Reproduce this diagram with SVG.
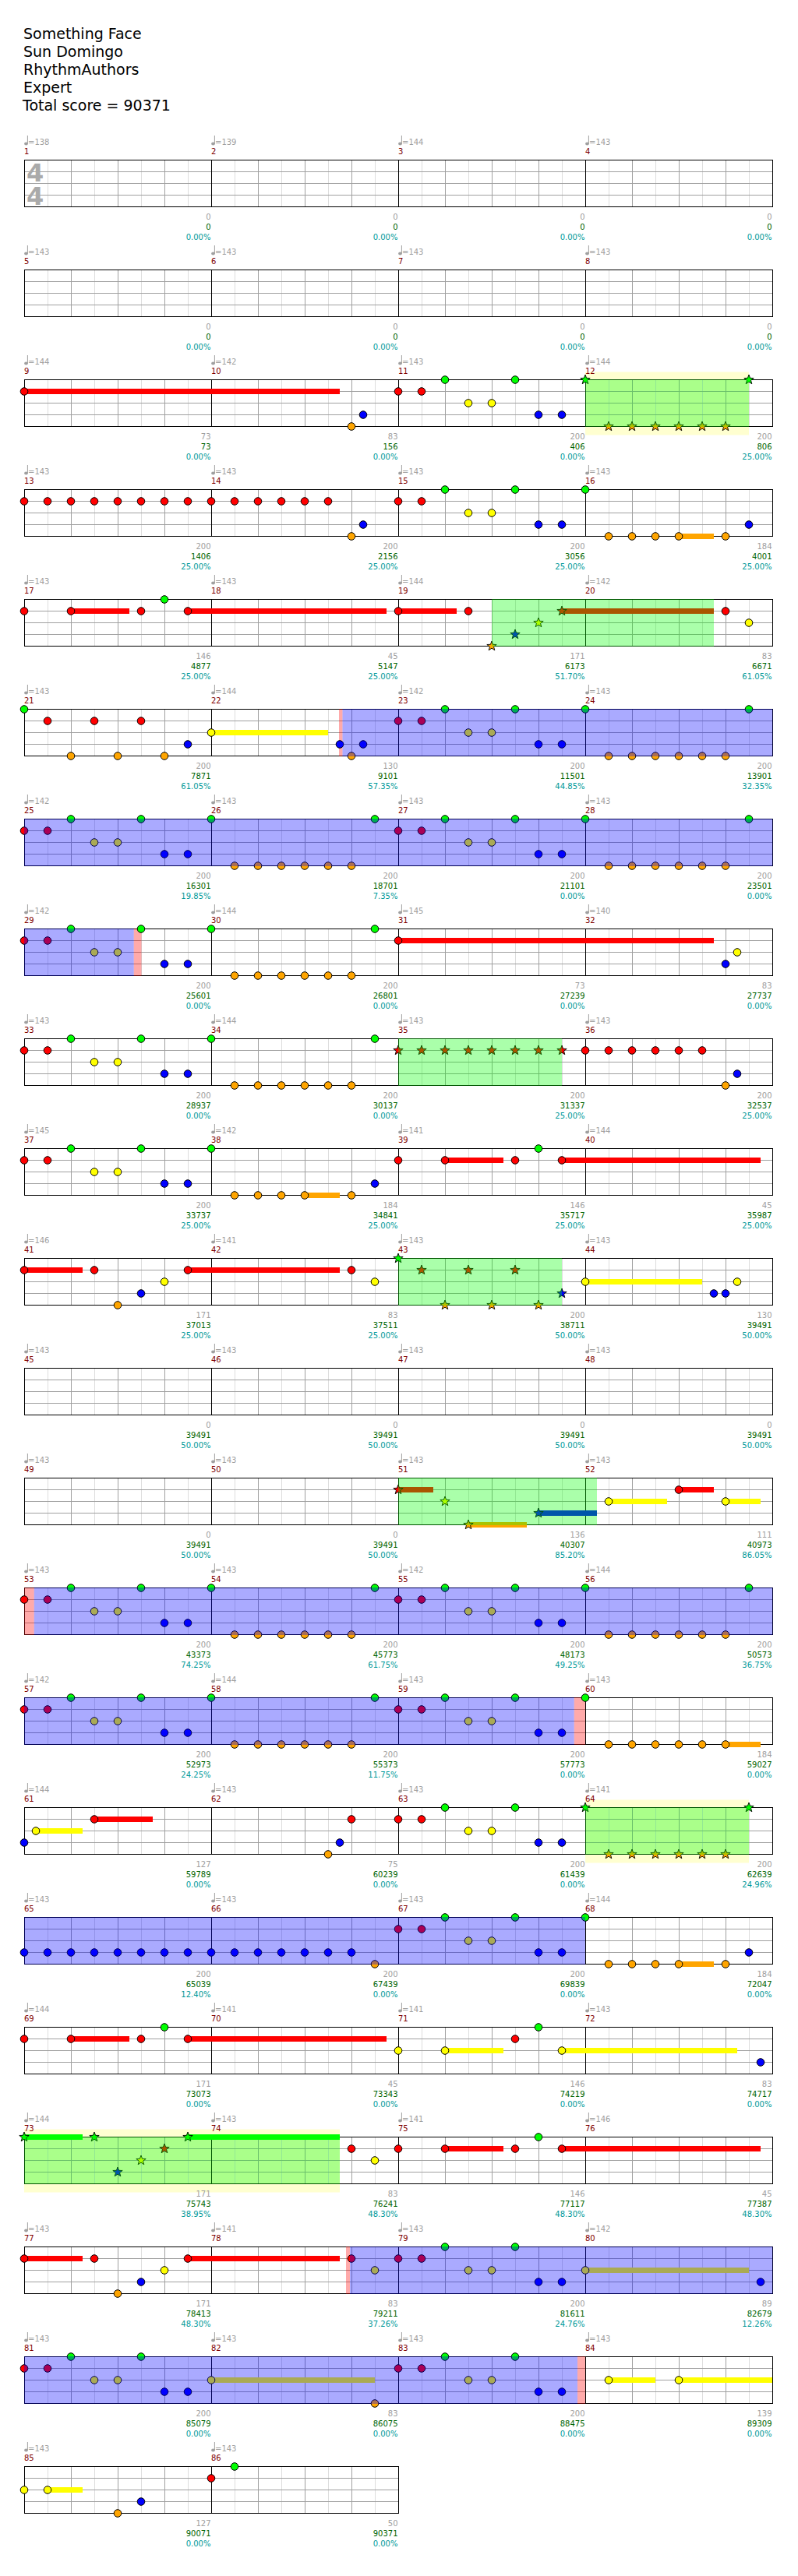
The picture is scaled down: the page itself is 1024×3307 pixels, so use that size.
<svg xmlns="http://www.w3.org/2000/svg" xmlns:xlink="http://www.w3.org/1999/xlink" width="1024" height="3307" viewBox="0 0 1024 3307">
<style>
.tx{font-family:"DejaVu Sans",sans-serif;font-size:10px}
.tp{fill:#a0a0a0}
.mn{fill:#800000}
.sa{fill:#a0a0a0;text-anchor:end}
.sb{fill:#006400;text-anchor:end}
.sc{fill:#009999;text-anchor:end}
.hd{font-family:"DejaVu Sans",sans-serif;font-size:19px;fill:#000}
.bl{fill:#0000ff;fill-opacity:0.333}
.gr{fill:#00ff00;fill-opacity:0.333}
.pk{fill:#ff0000;fill-opacity:0.333}
.yb{fill:#ffffd0}
.sR{fill:#ff0000}.sY{fill:#ffff00}.sB{fill:#0000ff}.sO{fill:#ffa500}.sG{fill:#00ff00}
</style>
<defs>
<g id="mg">
<path d="M30.5,0V60M90.5,0V60M150.5,0V60M210.5,0V60" stroke="#dddddd" fill="none"/>
<path d="M60.5,0V60M120.5,0V60M180.5,0V60M0,15H240M0,30H240M0,45H240" stroke="#a0a0a0" fill="none"/>
</g>
<g id="row">
<use href="#mg" x="31"/><use href="#mg" x="271"/><use href="#mg" x="511"/><use href="#mg" x="751"/>
<path d="M271.5,0V60M511.5,0V60M751.5,0V60" stroke="#000" fill="none"/>
<rect x="31.5" y="0" width="960" height="60" fill="none" stroke="#000"/>
</g>
<g id="row2">
<use href="#mg" x="31"/><use href="#mg" x="271"/>
<path d="M271.5,0V60" stroke="#000" fill="none"/>
<rect x="31.5" y="0" width="480" height="60" fill="none" stroke="#000"/>
</g>
<g id="q" fill="#a0a0a0"><ellipse cx="2.5" cy="-21" rx="2.4" ry="2"/><rect x="3.9" y="-31.5" width="1" height="10.5"/></g>
<circle id="g" cy="0" r="4.8" fill="#00ff00" stroke="#000"/>
<circle id="r" cy="15" r="4.8" fill="#ff0000" stroke="#000"/>
<circle id="y" cy="30" r="4.8" fill="#ffff00" stroke="#000"/>
<circle id="b" cy="45" r="4.8" fill="#0000ff" stroke="#000"/>
<circle id="o" cy="60" r="4.8" fill="#ffa500" stroke="#000"/>
<path id="st" d="M0,-6.5L1.59,-2.18L6.18,-2.01L2.57,0.83L3.82,5.26L0,2.7L-3.82,5.26L-2.57,0.83L-6.18,-2.01L-1.59,-2.18Z" stroke="#000" stroke-width="0.9"/>
<use id="sg" href="#st" y="0" fill="#00ff00"/>
<use id="sr" href="#st" y="15" fill="#ff0000"/>
<use id="sy" href="#st" y="30" fill="#ffff00"/>
<use id="sb" href="#st" y="45" fill="#0000ff"/>
<use id="so" href="#st" y="60" fill="#ffa500"/>
<g id="pA"><use href="#r" x="0"/><use href="#r" x="30"/><use href="#g" x="60"/><use href="#y" x="90"/><use href="#y" x="120"/><use href="#g" x="150"/><use href="#b" x="180"/><use href="#b" x="210"/></g>
<g id="pB"><use href="#g" x="0"/><use href="#o" x="30"/><use href="#o" x="60"/><use href="#o" x="90"/><use href="#o" x="120"/><use href="#o" x="150"/><use href="#o" x="180"/><use href="#g" x="210"/></g>
<g id="pC"><use href="#g" x="0"/><use href="#o" x="30"/><use href="#o" x="60"/><use href="#o" x="90"/><use href="#o" x="120"/><use href="#o" x="180"/><use href="#b" x="210"/></g>
</defs>
<rect width="1024" height="3307" fill="#fff"/>
<g id="header" class="hd">
<text x="30" y="49.5">Something Face</text>
<text x="30" y="72.5">Sun Domingo</text>
<text x="30" y="95.5">RhythmAuthors</text>
<text x="30" y="118.5">Expert</text>
<text x="29" y="141.5">Total score = 90371</text>
</g>

<g id="row1" transform="translate(0,205.5)">
<use href="#row"/>
<text x="34" y="27" font-family="DejaVu Sans,sans-serif" font-weight="bold" font-size="32" fill="#aaaaaa">4</text>
<text x="34" y="57" font-family="DejaVu Sans,sans-serif" font-weight="bold" font-size="32" fill="#aaaaaa">4</text>
<g class="tx tp"><use href="#q" x="31"/><text x="36" y="-20">=138</text><use href="#q" x="271"/><text x="276" y="-20">=139</text><use href="#q" x="511"/><text x="516" y="-20">=144</text><use href="#q" x="751"/><text x="756" y="-20">=143</text></g>
<g class="tx mn"><text x="31" y="-8">1</text><text x="271" y="-8">2</text><text x="511" y="-8">3</text><text x="751" y="-8">4</text></g>
<g class="tx"><text class="sa" x="270.5" y="76">0</text><text class="sb" x="270.5" y="89">0</text><text class="sc" x="270.5" y="102">0.00%</text><text class="sa" x="510.5" y="76">0</text><text class="sb" x="510.5" y="89">0</text><text class="sc" x="510.5" y="102">0.00%</text><text class="sa" x="750.5" y="76">0</text><text class="sb" x="750.5" y="89">0</text><text class="sc" x="750.5" y="102">0.00%</text><text class="sa" x="990.5" y="76">0</text><text class="sb" x="990.5" y="89">0</text><text class="sc" x="990.5" y="102">0.00%</text></g>
</g>

<g id="row2m" transform="translate(0,346.5)">
<use href="#row"/>
<g class="tx tp"><use href="#q" x="31"/><text x="36" y="-20">=143</text><use href="#q" x="271"/><text x="276" y="-20">=143</text><use href="#q" x="511"/><text x="516" y="-20">=143</text><use href="#q" x="751"/><text x="756" y="-20">=143</text></g>
<g class="tx mn"><text x="31" y="-8">5</text><text x="271" y="-8">6</text><text x="511" y="-8">7</text><text x="751" y="-8">8</text></g>
<g class="tx"><text class="sa" x="270.5" y="76">0</text><text class="sb" x="270.5" y="89">0</text><text class="sc" x="270.5" y="102">0.00%</text><text class="sa" x="510.5" y="76">0</text><text class="sb" x="510.5" y="89">0</text><text class="sc" x="510.5" y="102">0.00%</text><text class="sa" x="750.5" y="76">0</text><text class="sb" x="750.5" y="89">0</text><text class="sc" x="750.5" y="102">0.00%</text><text class="sa" x="990.5" y="76">0</text><text class="sb" x="990.5" y="89">0</text><text class="sc" x="990.5" y="102">0.00%</text></g>
</g>

<g id="row3" transform="translate(0,487.5)">
<rect class="yb" x="751" y="-10" width="210" height="81"/>
<use href="#row"/>
<rect class="sR" x="31" y="11.5" width="405" height="7"/>
<use href="#r" x="31"/><use href="#o" x="451"/><use href="#b" x="466"/><use href="#pA" x="511"/>
<use href="#sg" x="751"/><use href="#so" x="781"/><use href="#so" x="811"/><use href="#so" x="841"/><use href="#so" x="871"/><use href="#so" x="901"/><use href="#so" x="931"/><use href="#sg" x="961"/>
<rect class="gr" x="751" y="-0.5" width="210" height="61"/>
<g class="tx tp"><use href="#q" x="31"/><text x="36" y="-20">=144</text><use href="#q" x="271"/><text x="276" y="-20">=142</text><use href="#q" x="511"/><text x="516" y="-20">=143</text><use href="#q" x="751"/><text x="756" y="-20">=144</text></g>
<g class="tx mn"><text x="31" y="-8">9</text><text x="271" y="-8">10</text><text x="511" y="-8">11</text><text x="751" y="-8">12</text></g>
<g class="tx"><text class="sa" x="270.5" y="76">73</text><text class="sb" x="270.5" y="89">73</text><text class="sc" x="270.5" y="102">0.00%</text><text class="sa" x="510.5" y="76">83</text><text class="sb" x="510.5" y="89">156</text><text class="sc" x="510.5" y="102">0.00%</text><text class="sa" x="750.5" y="76">200</text><text class="sb" x="750.5" y="89">406</text><text class="sc" x="750.5" y="102">0.00%</text><text class="sa" x="990.5" y="76">200</text><text class="sb" x="990.5" y="89">806</text><text class="sc" x="990.5" y="102">25.00%</text></g>
</g>

<g id="row4" transform="translate(0,628.5)">
<use href="#row"/>
<rect class="sO" x="871" y="56.5" width="45" height="7"/>
<use href="#r" x="31"/><use href="#r" x="61"/><use href="#r" x="91"/><use href="#r" x="121"/><use href="#r" x="151"/><use href="#r" x="181"/><use href="#r" x="211"/><use href="#r" x="241"/><use href="#r" x="271"/><use href="#r" x="301"/><use href="#r" x="331"/><use href="#r" x="361"/><use href="#r" x="391"/><use href="#r" x="421"/>
<use href="#o" x="451"/><use href="#b" x="466"/><use href="#pA" x="511"/><use href="#pC" x="751"/>
<g class="tx tp"><use href="#q" x="31"/><text x="36" y="-20">=143</text><use href="#q" x="271"/><text x="276" y="-20">=143</text><use href="#q" x="511"/><text x="516" y="-20">=143</text><use href="#q" x="751"/><text x="756" y="-20">=143</text></g>
<g class="tx mn"><text x="31" y="-8">13</text><text x="271" y="-8">14</text><text x="511" y="-8">15</text><text x="751" y="-8">16</text></g>
<g class="tx"><text class="sa" x="270.5" y="76">200</text><text class="sb" x="270.5" y="89">1406</text><text class="sc" x="270.5" y="102">25.00%</text><text class="sa" x="510.5" y="76">200</text><text class="sb" x="510.5" y="89">2156</text><text class="sc" x="510.5" y="102">25.00%</text><text class="sa" x="750.5" y="76">200</text><text class="sb" x="750.5" y="89">3056</text><text class="sc" x="750.5" y="102">25.00%</text><text class="sa" x="990.5" y="76">184</text><text class="sb" x="990.5" y="89">4001</text><text class="sc" x="990.5" y="102">25.00%</text></g>
</g>

<g id="row5" transform="translate(0,769.5)">
<use href="#row"/>
<rect class="sR" x="91" y="11.5" width="75" height="7"/><rect class="sR" x="241" y="11.5" width="255" height="7"/><rect class="sR" x="511" y="11.5" width="75" height="7"/><rect class="sR" x="721" y="11.5" width="195" height="7"/>
<use href="#r" x="31"/><use href="#r" x="91"/><use href="#r" x="181"/><use href="#g" x="211"/><use href="#r" x="241"/><use href="#r" x="511"/><use href="#r" x="601"/>
<use href="#so" x="631"/><use href="#sb" x="661"/><use href="#sy" x="691"/><use href="#sr" x="721"/>
<use href="#r" x="931"/><use href="#y" x="961"/>
<rect class="gr" x="631" y="-0.5" width="285" height="61"/>
<g class="tx tp"><use href="#q" x="31"/><text x="36" y="-20">=143</text><use href="#q" x="271"/><text x="276" y="-20">=143</text><use href="#q" x="511"/><text x="516" y="-20">=144</text><use href="#q" x="751"/><text x="756" y="-20">=142</text></g>
<g class="tx mn"><text x="31" y="-8">17</text><text x="271" y="-8">18</text><text x="511" y="-8">19</text><text x="751" y="-8">20</text></g>
<g class="tx"><text class="sa" x="270.5" y="76">146</text><text class="sb" x="270.5" y="89">4877</text><text class="sc" x="270.5" y="102">25.00%</text><text class="sa" x="510.5" y="76">45</text><text class="sb" x="510.5" y="89">5147</text><text class="sc" x="510.5" y="102">25.00%</text><text class="sa" x="750.5" y="76">171</text><text class="sb" x="750.5" y="89">6173</text><text class="sc" x="750.5" y="102">51.70%</text><text class="sa" x="990.5" y="76">83</text><text class="sb" x="990.5" y="89">6671</text><text class="sc" x="990.5" y="102">61.05%</text></g>
</g>

<g id="row6" transform="translate(0,910.5)">
<use href="#row"/>
<rect class="pk" x="435" y="-0.5" width="4.5" height="61"/>
<rect class="sY" x="271" y="26.5" width="150" height="7"/>
<use href="#g" x="31"/><use href="#r" x="61"/><use href="#o" x="91"/><use href="#r" x="121"/><use href="#o" x="151"/><use href="#r" x="181"/><use href="#o" x="211"/><use href="#b" x="241"/><use href="#y" x="271"/><use href="#b" x="436"/><use href="#o" x="451"/><use href="#b" x="466"/>
<use href="#pA" x="511"/><use href="#pB" x="751"/>
<rect class="bl" x="439.5" y="-0.5" width="552" height="61"/>
<g class="tx tp"><use href="#q" x="31"/><text x="36" y="-20">=143</text><use href="#q" x="271"/><text x="276" y="-20">=144</text><use href="#q" x="511"/><text x="516" y="-20">=142</text><use href="#q" x="751"/><text x="756" y="-20">=143</text></g>
<g class="tx mn"><text x="31" y="-8">21</text><text x="271" y="-8">22</text><text x="511" y="-8">23</text><text x="751" y="-8">24</text></g>
<g class="tx"><text class="sa" x="270.5" y="76">200</text><text class="sb" x="270.5" y="89">7871</text><text class="sc" x="270.5" y="102">61.05%</text><text class="sa" x="510.5" y="76">130</text><text class="sb" x="510.5" y="89">9101</text><text class="sc" x="510.5" y="102">57.35%</text><text class="sa" x="750.5" y="76">200</text><text class="sb" x="750.5" y="89">11501</text><text class="sc" x="750.5" y="102">44.85%</text><text class="sa" x="990.5" y="76">200</text><text class="sb" x="990.5" y="89">13901</text><text class="sc" x="990.5" y="102">32.35%</text></g>
</g>

<g id="row7" transform="translate(0,1051.5)">
<use href="#row"/>
<use href="#pA" x="31"/><use href="#pB" x="271"/><use href="#pA" x="511"/><use href="#pB" x="751"/>
<rect class="bl" x="31" y="-0.5" width="960.5" height="61"/>
<g class="tx tp"><use href="#q" x="31"/><text x="36" y="-20">=142</text><use href="#q" x="271"/><text x="276" y="-20">=143</text><use href="#q" x="511"/><text x="516" y="-20">=143</text><use href="#q" x="751"/><text x="756" y="-20">=143</text></g>
<g class="tx mn"><text x="31" y="-8">25</text><text x="271" y="-8">26</text><text x="511" y="-8">27</text><text x="751" y="-8">28</text></g>
<g class="tx"><text class="sa" x="270.5" y="76">200</text><text class="sb" x="270.5" y="89">16301</text><text class="sc" x="270.5" y="102">19.85%</text><text class="sa" x="510.5" y="76">200</text><text class="sb" x="510.5" y="89">18701</text><text class="sc" x="510.5" y="102">7.35%</text><text class="sa" x="750.5" y="76">200</text><text class="sb" x="750.5" y="89">21101</text><text class="sc" x="750.5" y="102">0.00%</text><text class="sa" x="990.5" y="76">200</text><text class="sb" x="990.5" y="89">23501</text><text class="sc" x="990.5" y="102">0.00%</text></g>
</g>

<g id="row8" transform="translate(0,1192.5)">
<use href="#row"/>
<rect class="pk" x="171.7" y="-0.5" width="9.8" height="61"/>
<rect class="sR" x="511" y="11.5" width="405" height="7"/>
<use href="#pA" x="31"/><use href="#pB" x="271"/><use href="#r" x="511"/><use href="#b" x="931"/><use href="#y" x="946"/>
<rect class="bl" x="31" y="-0.5" width="140.7" height="61"/>
<g class="tx tp"><use href="#q" x="31"/><text x="36" y="-20">=142</text><use href="#q" x="271"/><text x="276" y="-20">=144</text><use href="#q" x="511"/><text x="516" y="-20">=145</text><use href="#q" x="751"/><text x="756" y="-20">=140</text></g>
<g class="tx mn"><text x="31" y="-8">29</text><text x="271" y="-8">30</text><text x="511" y="-8">31</text><text x="751" y="-8">32</text></g>
<g class="tx"><text class="sa" x="270.5" y="76">200</text><text class="sb" x="270.5" y="89">25601</text><text class="sc" x="270.5" y="102">0.00%</text><text class="sa" x="510.5" y="76">200</text><text class="sb" x="510.5" y="89">26801</text><text class="sc" x="510.5" y="102">0.00%</text><text class="sa" x="750.5" y="76">73</text><text class="sb" x="750.5" y="89">27239</text><text class="sc" x="750.5" y="102">0.00%</text><text class="sa" x="990.5" y="76">83</text><text class="sb" x="990.5" y="89">27737</text><text class="sc" x="990.5" y="102">0.00%</text></g>
</g>

<g id="row9" transform="translate(0,1333.5)">
<use href="#row"/>
<use href="#pA" x="31"/><use href="#pB" x="271"/>
<use href="#sr" x="511"/><use href="#sr" x="541"/><use href="#sr" x="571"/><use href="#sr" x="601"/><use href="#sr" x="631"/><use href="#sr" x="661"/><use href="#sr" x="691"/><use href="#sr" x="721"/>
<use href="#r" x="751"/><use href="#r" x="781"/><use href="#r" x="811"/><use href="#r" x="841"/><use href="#r" x="871"/><use href="#r" x="901"/><use href="#o" x="931"/><use href="#b" x="946"/>
<rect class="gr" x="511" y="-0.5" width="210" height="61"/>
<g class="tx tp"><use href="#q" x="31"/><text x="36" y="-20">=143</text><use href="#q" x="271"/><text x="276" y="-20">=144</text><use href="#q" x="511"/><text x="516" y="-20">=143</text><use href="#q" x="751"/><text x="756" y="-20">=143</text></g>
<g class="tx mn"><text x="31" y="-8">33</text><text x="271" y="-8">34</text><text x="511" y="-8">35</text><text x="751" y="-8">36</text></g>
<g class="tx"><text class="sa" x="270.5" y="76">200</text><text class="sb" x="270.5" y="89">28937</text><text class="sc" x="270.5" y="102">0.00%</text><text class="sa" x="510.5" y="76">200</text><text class="sb" x="510.5" y="89">30137</text><text class="sc" x="510.5" y="102">0.00%</text><text class="sa" x="750.5" y="76">200</text><text class="sb" x="750.5" y="89">31337</text><text class="sc" x="750.5" y="102">25.00%</text><text class="sa" x="990.5" y="76">200</text><text class="sb" x="990.5" y="89">32537</text><text class="sc" x="990.5" y="102">25.00%</text></g>
</g>

<g id="row10" transform="translate(0,1474.5)">
<use href="#row"/>
<rect class="sO" x="391" y="56.5" width="45" height="7"/><rect class="sR" x="571" y="11.5" width="75" height="7"/><rect class="sR" x="721" y="11.5" width="255" height="7"/>
<use href="#pA" x="31"/>
<use href="#g" x="271"/><use href="#o" x="301"/><use href="#o" x="331"/><use href="#o" x="361"/><use href="#o" x="391"/><use href="#o" x="451"/><use href="#b" x="481"/>
<use href="#r" x="511"/><use href="#r" x="571"/><use href="#r" x="661"/><use href="#g" x="691"/><use href="#r" x="721"/>
<g class="tx tp"><use href="#q" x="31"/><text x="36" y="-20">=145</text><use href="#q" x="271"/><text x="276" y="-20">=142</text><use href="#q" x="511"/><text x="516" y="-20">=141</text><use href="#q" x="751"/><text x="756" y="-20">=144</text></g>
<g class="tx mn"><text x="31" y="-8">37</text><text x="271" y="-8">38</text><text x="511" y="-8">39</text><text x="751" y="-8">40</text></g>
<g class="tx"><text class="sa" x="270.5" y="76">200</text><text class="sb" x="270.5" y="89">33737</text><text class="sc" x="270.5" y="102">25.00%</text><text class="sa" x="510.5" y="76">184</text><text class="sb" x="510.5" y="89">34841</text><text class="sc" x="510.5" y="102">25.00%</text><text class="sa" x="750.5" y="76">146</text><text class="sb" x="750.5" y="89">35717</text><text class="sc" x="750.5" y="102">25.00%</text><text class="sa" x="990.5" y="76">45</text><text class="sb" x="990.5" y="89">35987</text><text class="sc" x="990.5" y="102">25.00%</text></g>
</g>

<g id="row11" transform="translate(0,1615.5)">
<use href="#row"/>
<rect class="sR" x="31" y="11.5" width="75" height="7"/><rect class="sR" x="241" y="11.5" width="195" height="7"/><rect class="sY" x="751" y="26.5" width="150" height="7"/>
<use href="#r" x="31"/><use href="#r" x="121"/><use href="#o" x="151"/><use href="#b" x="181"/><use href="#y" x="211"/><use href="#r" x="241"/><use href="#r" x="451"/><use href="#y" x="481"/>
<use href="#sg" x="511"/><use href="#sr" x="541"/><use href="#so" x="571"/><use href="#sr" x="601"/><use href="#so" x="631"/><use href="#sr" x="661"/><use href="#so" x="691"/><use href="#sb" x="721"/>
<use href="#y" x="751"/><use href="#b" x="916"/><use href="#b" x="931"/><use href="#y" x="946"/>
<rect class="gr" x="511" y="-0.5" width="210" height="61"/>
<g class="tx tp"><use href="#q" x="31"/><text x="36" y="-20">=146</text><use href="#q" x="271"/><text x="276" y="-20">=141</text><use href="#q" x="511"/><text x="516" y="-20">=143</text><use href="#q" x="751"/><text x="756" y="-20">=143</text></g>
<g class="tx mn"><text x="31" y="-8">41</text><text x="271" y="-8">42</text><text x="511" y="-8">43</text><text x="751" y="-8">44</text></g>
<g class="tx"><text class="sa" x="270.5" y="76">171</text><text class="sb" x="270.5" y="89">37013</text><text class="sc" x="270.5" y="102">25.00%</text><text class="sa" x="510.5" y="76">83</text><text class="sb" x="510.5" y="89">37511</text><text class="sc" x="510.5" y="102">25.00%</text><text class="sa" x="750.5" y="76">200</text><text class="sb" x="750.5" y="89">38711</text><text class="sc" x="750.5" y="102">50.00%</text><text class="sa" x="990.5" y="76">130</text><text class="sb" x="990.5" y="89">39491</text><text class="sc" x="990.5" y="102">50.00%</text></g>
</g>

<g id="row12" transform="translate(0,1756.5)">
<use href="#row"/>
<g class="tx tp"><use href="#q" x="31"/><text x="36" y="-20">=143</text><use href="#q" x="271"/><text x="276" y="-20">=143</text><use href="#q" x="511"/><text x="516" y="-20">=143</text><use href="#q" x="751"/><text x="756" y="-20">=143</text></g>
<g class="tx mn"><text x="31" y="-8">45</text><text x="271" y="-8">46</text><text x="511" y="-8">47</text><text x="751" y="-8">48</text></g>
<g class="tx"><text class="sa" x="270.5" y="76">0</text><text class="sb" x="270.5" y="89">39491</text><text class="sc" x="270.5" y="102">50.00%</text><text class="sa" x="510.5" y="76">0</text><text class="sb" x="510.5" y="89">39491</text><text class="sc" x="510.5" y="102">50.00%</text><text class="sa" x="750.5" y="76">0</text><text class="sb" x="750.5" y="89">39491</text><text class="sc" x="750.5" y="102">50.00%</text><text class="sa" x="990.5" y="76">0</text><text class="sb" x="990.5" y="89">39491</text><text class="sc" x="990.5" y="102">50.00%</text></g>
</g>

<g id="row13" transform="translate(0,1897.5)">
<use href="#row"/>
<rect class="sR" x="511" y="11.5" width="45" height="7"/><rect class="sO" x="601" y="56.5" width="75" height="7"/><rect class="sB" x="691" y="41.5" width="75" height="7"/><rect class="sY" x="781" y="26.5" width="75" height="7"/><rect class="sR" x="871" y="11.5" width="45" height="7"/><rect class="sY" x="931" y="26.5" width="45" height="7"/>
<use href="#sr" x="511"/><use href="#sy" x="571"/><use href="#so" x="601"/><use href="#sb" x="691"/>
<use href="#y" x="781"/><use href="#r" x="871"/><use href="#y" x="931"/>
<rect class="gr" x="511" y="-0.5" width="255" height="61"/>
<g class="tx tp"><use href="#q" x="31"/><text x="36" y="-20">=143</text><use href="#q" x="271"/><text x="276" y="-20">=143</text><use href="#q" x="511"/><text x="516" y="-20">=143</text><use href="#q" x="751"/><text x="756" y="-20">=143</text></g>
<g class="tx mn"><text x="31" y="-8">49</text><text x="271" y="-8">50</text><text x="511" y="-8">51</text><text x="751" y="-8">52</text></g>
<g class="tx"><text class="sa" x="270.5" y="76">0</text><text class="sb" x="270.5" y="89">39491</text><text class="sc" x="270.5" y="102">50.00%</text><text class="sa" x="510.5" y="76">0</text><text class="sb" x="510.5" y="89">39491</text><text class="sc" x="510.5" y="102">50.00%</text><text class="sa" x="750.5" y="76">136</text><text class="sb" x="750.5" y="89">40307</text><text class="sc" x="750.5" y="102">85.20%</text><text class="sa" x="990.5" y="76">111</text><text class="sb" x="990.5" y="89">40973</text><text class="sc" x="990.5" y="102">86.05%</text></g>
</g>

<g id="row14" transform="translate(0,2038.5)">
<use href="#row"/>
<rect class="pk" x="31" y="-0.5" width="12.75" height="61"/>
<use href="#pA" x="31"/><use href="#pB" x="271"/><use href="#pA" x="511"/><use href="#pB" x="751"/>
<rect class="bl" x="43.75" y="-0.5" width="947.75" height="61"/>
<g class="tx tp"><use href="#q" x="31"/><text x="36" y="-20">=143</text><use href="#q" x="271"/><text x="276" y="-20">=143</text><use href="#q" x="511"/><text x="516" y="-20">=142</text><use href="#q" x="751"/><text x="756" y="-20">=144</text></g>
<g class="tx mn"><text x="31" y="-8">53</text><text x="271" y="-8">54</text><text x="511" y="-8">55</text><text x="751" y="-8">56</text></g>
<g class="tx"><text class="sa" x="270.5" y="76">200</text><text class="sb" x="270.5" y="89">43373</text><text class="sc" x="270.5" y="102">74.25%</text><text class="sa" x="510.5" y="76">200</text><text class="sb" x="510.5" y="89">45773</text><text class="sc" x="510.5" y="102">61.75%</text><text class="sa" x="750.5" y="76">200</text><text class="sb" x="750.5" y="89">48173</text><text class="sc" x="750.5" y="102">49.25%</text><text class="sa" x="990.5" y="76">200</text><text class="sb" x="990.5" y="89">50573</text><text class="sc" x="990.5" y="102">36.75%</text></g>
</g>

<g id="row15" transform="translate(0,2179.5)">
<use href="#row"/>
<rect class="pk" x="736.7" y="-0.5" width="14.3" height="61"/>
<rect class="sO" x="931" y="56.5" width="45" height="7"/>
<use href="#pA" x="31"/><use href="#pB" x="271"/><use href="#pA" x="511"/>
<use href="#g" x="751"/><use href="#o" x="781"/><use href="#o" x="811"/><use href="#o" x="841"/><use href="#o" x="871"/><use href="#o" x="901"/><use href="#o" x="931"/>
<rect class="bl" x="31" y="-0.5" width="705.7" height="61"/>
<g class="tx tp"><use href="#q" x="31"/><text x="36" y="-20">=142</text><use href="#q" x="271"/><text x="276" y="-20">=144</text><use href="#q" x="511"/><text x="516" y="-20">=143</text><use href="#q" x="751"/><text x="756" y="-20">=143</text></g>
<g class="tx mn"><text x="31" y="-8">57</text><text x="271" y="-8">58</text><text x="511" y="-8">59</text><text x="751" y="-8">60</text></g>
<g class="tx"><text class="sa" x="270.5" y="76">200</text><text class="sb" x="270.5" y="89">52973</text><text class="sc" x="270.5" y="102">24.25%</text><text class="sa" x="510.5" y="76">200</text><text class="sb" x="510.5" y="89">55373</text><text class="sc" x="510.5" y="102">11.75%</text><text class="sa" x="750.5" y="76">200</text><text class="sb" x="750.5" y="89">57773</text><text class="sc" x="750.5" y="102">0.00%</text><text class="sa" x="990.5" y="76">184</text><text class="sb" x="990.5" y="89">59027</text><text class="sc" x="990.5" y="102">0.00%</text></g>
</g>

<g id="row16" transform="translate(0,2320.5)">
<rect class="yb" x="751" y="-10" width="210" height="81"/>
<use href="#row"/>
<rect class="sY" x="46" y="26.5" width="60" height="7"/><rect class="sR" x="121" y="11.5" width="75" height="7"/>
<use href="#b" x="31"/><use href="#y" x="46"/><use href="#r" x="121"/>
<use href="#o" x="421"/><use href="#b" x="436"/><use href="#r" x="451"/>
<use href="#pA" x="511"/>
<use href="#sg" x="751"/><use href="#so" x="781"/><use href="#so" x="811"/><use href="#so" x="841"/><use href="#so" x="871"/><use href="#so" x="901"/><use href="#so" x="931"/><use href="#sg" x="961"/>
<rect class="gr" x="751" y="-0.5" width="210" height="61"/>
<g class="tx tp"><use href="#q" x="31"/><text x="36" y="-20">=144</text><use href="#q" x="271"/><text x="276" y="-20">=143</text><use href="#q" x="511"/><text x="516" y="-20">=143</text><use href="#q" x="751"/><text x="756" y="-20">=141</text></g>
<g class="tx mn"><text x="31" y="-8">61</text><text x="271" y="-8">62</text><text x="511" y="-8">63</text><text x="751" y="-8">64</text></g>
<g class="tx"><text class="sa" x="270.5" y="76">127</text><text class="sb" x="270.5" y="89">59789</text><text class="sc" x="270.5" y="102">0.00%</text><text class="sa" x="510.5" y="76">75</text><text class="sb" x="510.5" y="89">60239</text><text class="sc" x="510.5" y="102">0.00%</text><text class="sa" x="750.5" y="76">200</text><text class="sb" x="750.5" y="89">61439</text><text class="sc" x="750.5" y="102">0.00%</text><text class="sa" x="990.5" y="76">200</text><text class="sb" x="990.5" y="89">62639</text><text class="sc" x="990.5" y="102">24.96%</text></g>
</g>

<g id="row17" transform="translate(0,2461.5)">
<use href="#row"/>
<rect class="sO" x="871" y="56.5" width="45" height="7"/>
<use href="#b" x="31"/><use href="#b" x="61"/><use href="#b" x="91"/><use href="#b" x="121"/><use href="#b" x="151"/><use href="#b" x="181"/><use href="#b" x="211"/><use href="#b" x="241"/><use href="#b" x="271"/><use href="#b" x="301"/><use href="#b" x="331"/><use href="#b" x="361"/><use href="#b" x="391"/><use href="#b" x="421"/><use href="#b" x="451"/><use href="#o" x="481"/>
<use href="#pA" x="511"/><use href="#pC" x="751"/>
<rect class="bl" x="31" y="-0.5" width="720" height="61"/>
<g class="tx tp"><use href="#q" x="31"/><text x="36" y="-20">=143</text><use href="#q" x="271"/><text x="276" y="-20">=143</text><use href="#q" x="511"/><text x="516" y="-20">=143</text><use href="#q" x="751"/><text x="756" y="-20">=144</text></g>
<g class="tx mn"><text x="31" y="-8">65</text><text x="271" y="-8">66</text><text x="511" y="-8">67</text><text x="751" y="-8">68</text></g>
<g class="tx"><text class="sa" x="270.5" y="76">200</text><text class="sb" x="270.5" y="89">65039</text><text class="sc" x="270.5" y="102">12.40%</text><text class="sa" x="510.5" y="76">200</text><text class="sb" x="510.5" y="89">67439</text><text class="sc" x="510.5" y="102">0.00%</text><text class="sa" x="750.5" y="76">200</text><text class="sb" x="750.5" y="89">69839</text><text class="sc" x="750.5" y="102">0.00%</text><text class="sa" x="990.5" y="76">184</text><text class="sb" x="990.5" y="89">72047</text><text class="sc" x="990.5" y="102">0.00%</text></g>
</g>

<g id="row18" transform="translate(0,2602.5)">
<use href="#row"/>
<rect class="sR" x="91" y="11.5" width="75" height="7"/><rect class="sR" x="241" y="11.5" width="255" height="7"/><rect class="sY" x="571" y="26.5" width="75" height="7"/><rect class="sY" x="721" y="26.5" width="225" height="7"/>
<use href="#r" x="31"/><use href="#r" x="91"/><use href="#r" x="181"/><use href="#g" x="211"/><use href="#r" x="241"/>
<use href="#y" x="511"/><use href="#y" x="571"/><use href="#r" x="661"/><use href="#g" x="691"/><use href="#y" x="721"/><use href="#b" x="976"/>
<g class="tx tp"><use href="#q" x="31"/><text x="36" y="-20">=144</text><use href="#q" x="271"/><text x="276" y="-20">=141</text><use href="#q" x="511"/><text x="516" y="-20">=141</text><use href="#q" x="751"/><text x="756" y="-20">=143</text></g>
<g class="tx mn"><text x="31" y="-8">69</text><text x="271" y="-8">70</text><text x="511" y="-8">71</text><text x="751" y="-8">72</text></g>
<g class="tx"><text class="sa" x="270.5" y="76">171</text><text class="sb" x="270.5" y="89">73073</text><text class="sc" x="270.5" y="102">0.00%</text><text class="sa" x="510.5" y="76">45</text><text class="sb" x="510.5" y="89">73343</text><text class="sc" x="510.5" y="102">0.00%</text><text class="sa" x="750.5" y="76">146</text><text class="sb" x="750.5" y="89">74219</text><text class="sc" x="750.5" y="102">0.00%</text><text class="sa" x="990.5" y="76">83</text><text class="sb" x="990.5" y="89">74717</text><text class="sc" x="990.5" y="102">0.00%</text></g>
</g>

<g id="row19" transform="translate(0,2743.5)">
<rect class="yb" x="31" y="-10" width="405" height="81"/>
<use href="#row"/>
<rect class="sG" x="31" y="-3.5" width="75" height="7"/><rect class="sG" x="241" y="-3.5" width="195" height="7"/>
<rect class="sR" x="571" y="11.5" width="75" height="7"/><rect class="sR" x="721" y="11.5" width="255" height="7"/>
<use href="#sg" x="31"/><use href="#sg" x="121"/><use href="#sb" x="151"/><use href="#sy" x="181"/><use href="#sr" x="211"/><use href="#sg" x="241"/>
<use href="#r" x="451"/><use href="#y" x="481"/>
<use href="#r" x="511"/><use href="#r" x="571"/><use href="#r" x="661"/><use href="#g" x="691"/><use href="#r" x="721"/>
<rect class="gr" x="31" y="-0.5" width="405" height="61"/>
<g class="tx tp"><use href="#q" x="31"/><text x="36" y="-20">=144</text><use href="#q" x="271"/><text x="276" y="-20">=143</text><use href="#q" x="511"/><text x="516" y="-20">=141</text><use href="#q" x="751"/><text x="756" y="-20">=146</text></g>
<g class="tx mn"><text x="31" y="-8">73</text><text x="271" y="-8">74</text><text x="511" y="-8">75</text><text x="751" y="-8">76</text></g>
<g class="tx"><text class="sa" x="270.5" y="76">171</text><text class="sb" x="270.5" y="89">75743</text><text class="sc" x="270.5" y="102">38.95%</text><text class="sa" x="510.5" y="76">83</text><text class="sb" x="510.5" y="89">76241</text><text class="sc" x="510.5" y="102">48.30%</text><text class="sa" x="750.5" y="76">146</text><text class="sb" x="750.5" y="89">77117</text><text class="sc" x="750.5" y="102">48.30%</text><text class="sa" x="990.5" y="76">45</text><text class="sb" x="990.5" y="89">77387</text><text class="sc" x="990.5" y="102">48.30%</text></g>
</g>

<g id="row20" transform="translate(0,2884.5)">
<use href="#row"/>
<rect class="pk" x="444" y="-0.5" width="5" height="61"/>
<rect class="sR" x="31" y="11.5" width="75" height="7"/><rect class="sR" x="241" y="11.5" width="195" height="7"/><rect class="sY" x="751" y="26.5" width="210" height="7"/>
<use href="#r" x="31"/><use href="#r" x="121"/><use href="#o" x="151"/><use href="#b" x="181"/><use href="#y" x="211"/><use href="#r" x="241"/><use href="#r" x="451"/><use href="#y" x="481"/>
<use href="#pA" x="511"/><use href="#y" x="751"/><use href="#b" x="976"/>
<rect class="bl" x="449" y="-0.5" width="542.5" height="61"/>
<g class="tx tp"><use href="#q" x="31"/><text x="36" y="-20">=143</text><use href="#q" x="271"/><text x="276" y="-20">=141</text><use href="#q" x="511"/><text x="516" y="-20">=143</text><use href="#q" x="751"/><text x="756" y="-20">=142</text></g>
<g class="tx mn"><text x="31" y="-8">77</text><text x="271" y="-8">78</text><text x="511" y="-8">79</text><text x="751" y="-8">80</text></g>
<g class="tx"><text class="sa" x="270.5" y="76">171</text><text class="sb" x="270.5" y="89">78413</text><text class="sc" x="270.5" y="102">48.30%</text><text class="sa" x="510.5" y="76">83</text><text class="sb" x="510.5" y="89">79211</text><text class="sc" x="510.5" y="102">37.26%</text><text class="sa" x="750.5" y="76">200</text><text class="sb" x="750.5" y="89">81611</text><text class="sc" x="750.5" y="102">24.76%</text><text class="sa" x="990.5" y="76">89</text><text class="sb" x="990.5" y="89">82679</text><text class="sc" x="990.5" y="102">12.26%</text></g>
</g>

<g id="row21" transform="translate(0,3025.5)">
<use href="#row"/>
<rect class="pk" x="741" y="-0.5" width="10" height="61"/>
<rect class="sY" x="271" y="26.5" width="210" height="7"/><rect class="sY" x="781" y="26.5" width="60" height="7"/><rect class="sY" x="871" y="26.5" width="120" height="7"/>
<use href="#pA" x="31"/><use href="#y" x="271"/><use href="#o" x="481"/>
<use href="#pA" x="511"/><use href="#y" x="781"/><use href="#y" x="871"/>
<rect class="bl" x="31" y="-0.5" width="710" height="61"/>
<g class="tx tp"><use href="#q" x="31"/><text x="36" y="-20">=143</text><use href="#q" x="271"/><text x="276" y="-20">=143</text><use href="#q" x="511"/><text x="516" y="-20">=143</text><use href="#q" x="751"/><text x="756" y="-20">=143</text></g>
<g class="tx mn"><text x="31" y="-8">81</text><text x="271" y="-8">82</text><text x="511" y="-8">83</text><text x="751" y="-8">84</text></g>
<g class="tx"><text class="sa" x="270.5" y="76">200</text><text class="sb" x="270.5" y="89">85079</text><text class="sc" x="270.5" y="102">0.00%</text><text class="sa" x="510.5" y="76">83</text><text class="sb" x="510.5" y="89">86075</text><text class="sc" x="510.5" y="102">0.00%</text><text class="sa" x="750.5" y="76">200</text><text class="sb" x="750.5" y="89">88475</text><text class="sc" x="750.5" y="102">0.00%</text><text class="sa" x="990.5" y="76">139</text><text class="sb" x="990.5" y="89">89309</text><text class="sc" x="990.5" y="102">0.00%</text></g>
</g>

<g id="row22" transform="translate(0,3166.5)">
<use href="#row2"/>
<rect class="sY" x="61" y="26.5" width="45" height="7"/>
<use href="#y" x="31"/><use href="#y" x="61"/><use href="#o" x="151"/><use href="#b" x="181"/><use href="#r" x="271"/><use href="#g" x="301"/>
<g class="tx tp"><use href="#q" x="31"/><text x="36" y="-20">=143</text><use href="#q" x="271"/><text x="276" y="-20">=143</text></g>
<g class="tx mn"><text x="31" y="-8">85</text><text x="271" y="-8">86</text></g>
<g class="tx"><text class="sa" x="270.5" y="76">127</text><text class="sb" x="270.5" y="89">90071</text><text class="sc" x="270.5" y="102">0.00%</text><text class="sa" x="510.5" y="76">50</text><text class="sb" x="510.5" y="89">90371</text><text class="sc" x="510.5" y="102">0.00%</text></g>
</g>
</svg>
